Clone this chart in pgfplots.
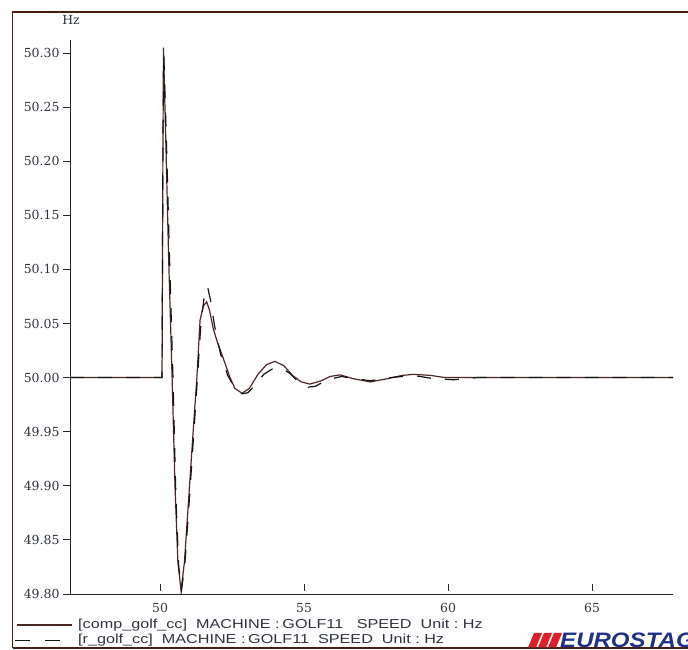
\documentclass[border=0pt]{standalone}
\usepackage{fontspec}
\usepackage{graphicx}
\usepackage{pgfplots}
\pgfplotsset{compat=1.18}
\setmainfont{DejaVu Serif}
\newfontfamily\arial{Liberation Sans}
\definecolor{framec}{RGB}{70,30,20}
\definecolor{axc}{RGB}{40,35,35}
\definecolor{solidc}{RGB}{75,40,35}
\definecolor{dashc}{RGB}{20,20,20}
\definecolor{logored}{RGB}{225,30,35}
\definecolor{logoblue}{RGB}{30,50,140}
\definecolor{ticktxt}{RGB}{45,50,60}
\begin{document}
\begin{tikzpicture}[x=1bp,y=1bp]
\useasboundingbox (0,0) rectangle (688,650);
\clip (0,0) rectangle (688,650);
% outer frame
\draw[framec, line width=1.1bp] (12.7,2) -- (12.7,638) -- (700,638);
\draw[framec, line width=1.1bp] (12.7,2) -- (700,2);
\begin{axis}[
  at={(70bp,56bp)}, anchor=south west,
  scale only axis, width=603bp, height=554bp,
  xmin=46.875, xmax=67.81, ymin=49.80, ymax=50.312,
  axis lines*=left,
  axis line style={axc, line width=0.9bp},
  every axis plot/.append style={line width=1.2bp},
  tick align=outside, major tick length=7bp,
  tick style={axc, line width=0.8bp},
  xtick={50,55,60,65},
  ytick={49.80,49.85,49.90,49.95,50.00,50.05,50.10,50.15,50.20,50.25,50.30},
  y tick label style={/pgf/number format/fixed, /pgf/number format/fixed zerofill, /pgf/number format/precision=2},
  /pgf/number format/assume math mode=true,
  ticklabel style={font=\fontsize{12.5}{14}\selectfont, text=ticktxt},
  xtick style={yshift=10bp},
  xticklabel style={yshift=1bp},
  clip=false,
]
\addplot[solidc, solid] coordinates {
(46.875,50.000) (50.05,50.000) (50.07,50.000) (50.10,50.20) (50.12,50.305)
(50.20,50.22) (50.30,50.11) (50.42,50.00) (50.52,49.90) (50.62,49.83)
(50.73,49.803) (50.85,49.83) (51.00,49.89) (51.15,49.95) (51.28,50.00)
(51.39,50.053) (51.50,50.066) (51.62,50.070) (51.72,50.062) (51.85,50.045)
(52.00,50.032) (52.14,50.022) (52.43,50.000) (52.60,49.990) (52.85,49.9855)
(53.10,49.990) (53.40,50.003) (53.70,50.012) (53.99,50.015) (54.30,50.011)
(54.60,50.002) (54.90,49.996) (55.20,49.994) (55.60,49.997) (55.90,50.001)
(56.25,50.0025) (56.70,49.999) (57.30,49.996) (57.90,49.999) (58.40,50.002)
(58.80,50.003) (59.40,50.002) (59.90,50.000) (67.81,50.000)
};
\addplot[dashc, dash pattern=on 14bp off 14bp] coordinates {
(46.875,50.000) (50.07,50.000) (50.10,50.21) (50.13,50.300)
(50.22,50.22) (50.33,50.11) (50.45,50.00) (50.55,49.89) (50.65,49.825)
(50.75,49.804) (50.87,49.83) (51.00,49.88) (51.15,49.94) (51.30,50.00)
(51.42,50.05) (51.55,50.078) (51.65,50.084) (51.75,50.072) (51.90,50.047)
(52.10,50.022) (52.35,50.002) (52.60,49.990) (52.85,49.985) (53.05,49.986)
(53.30,49.993) (53.60,50.003) (53.90,50.008) (54.20,50.009) (54.50,50.004)
(54.80,49.996) (55.10,49.991) (55.40,49.992) (55.80,49.998) (56.30,50.001)
(56.80,49.999) (57.30,49.997) (58.00,50.000) (58.80,50.002) (59.50,49.999)
(60.20,49.998) (61.00,50.000) (67.81,50.000)
};
\end{axis}
% axis unit labels
\node[font=\fontsize{12.5}{14}\selectfont, text=ticktxt] at (71,630) {Hz};
\node[font=\fontsize{12.5}{14}\selectfont, text=ticktxt, anchor=west] at (684,52) {s};
% legend
\draw[solidc, line width=1.2bp] (17,25) -- (72,25);
\draw[dashc, line width=1.2bp] (15,9.5) -- (30,9.5);
\draw[dashc, line width=1.2bp] (45,9.5) -- (60,9.5);
\node[anchor=west, inner sep=0pt, text=ticktxt] at (78,25) {\scalebox{1.25}[1]{\arial\fontsize{13}{15}\selectfont [comp\_golf\_cc]\ \ MACHINE\ :\,GOLF11\ \ \ SPEED\ \ Unit\ :\ Hz}};
\node[anchor=west, inner sep=0pt, text=ticktxt] at (78,9.5) {\scalebox{1.25}[1]{\arial\fontsize{13}{15}\selectfont [r\_golf\_cc]\ \ MACHINE\ :\,GOLF11\ \ SPEED\ \ Unit\ :\ Hz}};
% logo
\fill[logored] (528,2.5) -- (536,2.5) -- (542,17) -- (534,17) -- cycle;
\fill[logored] (538,2.5) -- (546,2.5) -- (552,17) -- (544,17) -- cycle;
\fill[logored] (548,2.5) -- (556,2.5) -- (562,17) -- (554,17) -- cycle;
\node[anchor=south west, inner sep=0pt, text=logoblue] at (560,2.5) {\scalebox{1.15}[1]{\arial\bfseries\itshape\fontsize{21}{21}\selectfont EUROSTAG}};
\end{tikzpicture}
\end{document}
